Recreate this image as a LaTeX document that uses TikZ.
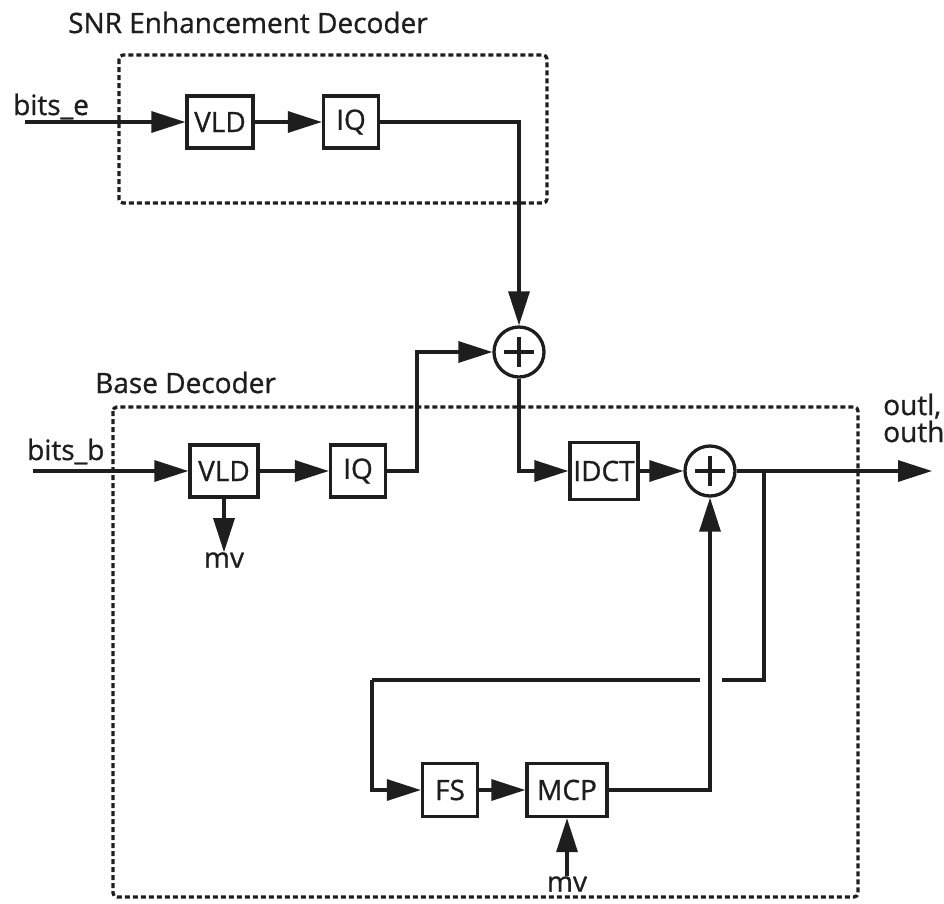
\documentclass[tikz,border=0pt]{standalone}
\usepackage{fontspec}
\setmainfont{Open Sans}[BoldFont={Open Sans}, BoldFeatures={FakeBold=0.9}]
\usetikzlibrary{arrows.meta}
\definecolor{ink}{HTML}{1E1E1E}
\begin{document}
\begin{tikzpicture}[x=1pt,y=-1pt,
  every node/.style={font=\fontsize{28}{30}\selectfont\bfseries, text=ink},
  ln/.style={line width=3.3pt, draw=ink},
  arr/.style={ln, -{Triangle[length=34pt,width=21pt]}},
  blk/.style={draw=ink, line width=3.3pt, inner sep=0pt, minimum height=52pt},
  sum/.style={circle, draw=ink, line width=3.3pt, minimum size=50pt, inner sep=0pt,
    path picture={
      \draw[ink, line width=3.3pt] ([xshift=-15pt]path picture bounding box.center) -- ([xshift=15pt]path picture bounding box.center);
      \draw[ink, line width=3.3pt] ([yshift=-15pt]path picture bounding box.center) -- ([yshift=15pt]path picture bounding box.center);}},
  grp/.style={draw=ink, line width=3.3pt, dash pattern=on 5pt off 3pt, rounded corners=4pt},
  lbl/.style={inner sep=0pt, anchor=base west}]
\useasboundingbox (0,0) rectangle (944,903);
\fill[white] (0,0) rectangle (944,903);

% group frames
\draw[grp] (119,55) rectangle (547,203);
\draw[grp] (113,407) rectangle (858,897);
\node[lbl] (ttlE) at (68,33) {SNR Enhancement Decoder};
\node[lbl] (ttlB) at (95,393) {Base Decoder};

% enhancement row
\node[lbl] (bitse) at (13,115) {bits\_e};
\coordinate (ein) at (25,122);
\node[blk, minimum width=66pt] (vld1) at (220,122) {VLD};
\node[blk, minimum width=55pt] (iq1) at (351,122) {IQ};
\node[sum] (plus1) at (519,352) {};

% base row
\node[lbl] (bitsb) at (27,460) {bits\_b};
\coordinate (bin) at (33,471);
\node[blk, minimum width=68pt] (vld2) at (224,471) {VLD};
\node[blk, minimum width=55pt] (iq2) at (358,471) {IQ};
\node[blk, minimum width=68pt, minimum height=57pt] (idct) at (604,471) {IDCT};
\node[sum] (plus2) at (710,471) {};
\node[inner sep=0pt] (mv1) at (224,560) {mv};
\coordinate (iqup) at (417,471);
\coordinate (out) at (932,471);
\node[lbl] (outl) at (883,415) {outl,};
\node[lbl] (outh) at (883,442) {outh};

% loop
\coordinate (br) at (764,471);
\coordinate (lp) at (372,680);
\node[blk, minimum width=55pt, minimum height=53pt] (fs) at (450,790) {FS};
\node[blk, minimum width=80pt, minimum height=53pt] (mcp) at (567,790) {MCP};
\node[inner sep=0pt] (mv2) at (567,884) {mv};

% connectors
\draw[arr] (ein) -- (vld1.west);
\draw[arr] (vld1) -- (iq1);
\draw[arr] (iq1.east) -| (plus1.north);
\draw[arr] (bin) -- (vld2.west);
\draw[arr] (vld2) -- (iq2);
\draw[arr] (iq2.east) -- (iqup) |- (plus1.west);
\draw[arr] (plus1.south) |- (idct.west);
\draw[arr] (idct) -- (plus2);
\draw[arr] (plus2.east) -- (out);
\draw[arr] (vld2.south) -- (mv1.north);
\draw[ln] (br) |- (lp);
\draw[arr] (lp) |- (fs.west);
\draw[arr] (fs) -- (mcp);
\draw[white, line width=6pt] (700,680) -- (722,680);
\draw[arr] (mcp.east) -| (plus2.south);
\draw[arr] (mv2.north) -- (mcp.south);
\end{tikzpicture}
\end{document}
